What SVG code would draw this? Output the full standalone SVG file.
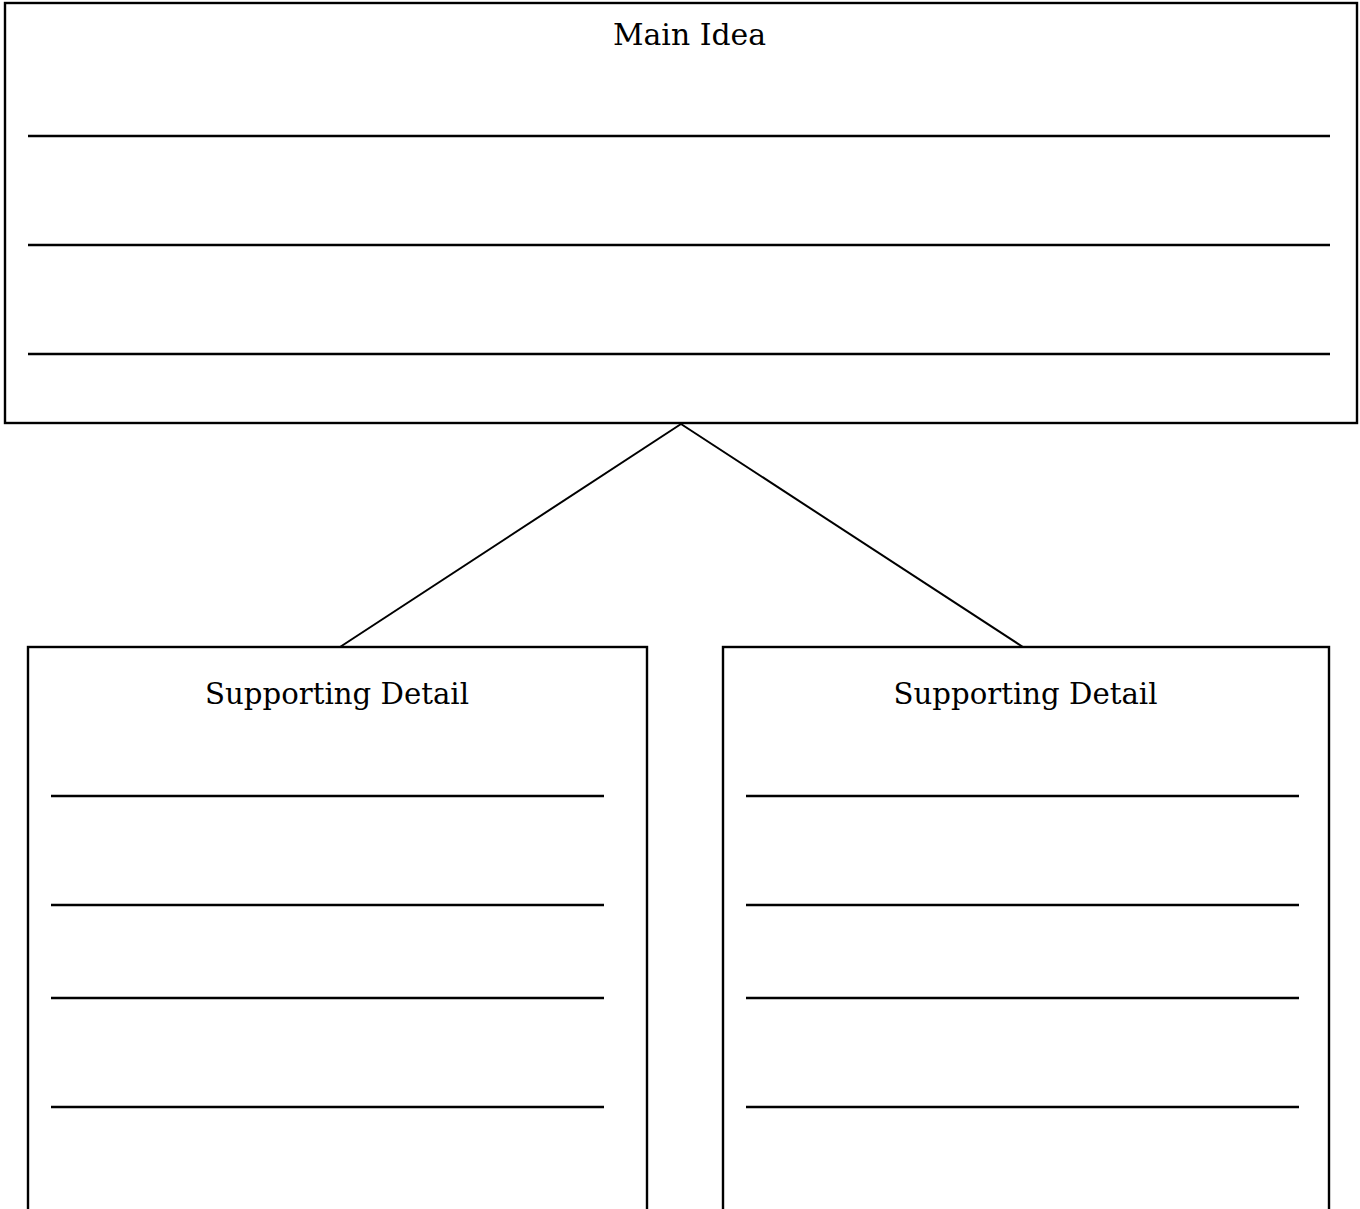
<svg xmlns="http://www.w3.org/2000/svg" width="1360" height="1209" viewBox="0 0 1360 1209">
<style>
.box{fill:#fff;stroke:#000;stroke-width:2.4}
.rule{stroke:#000;stroke-width:2.4}
.conn{stroke:#000;stroke-width:2;fill:none}
.t{font-family:"DejaVu Serif","Liberation Serif",serif;font-size:30px;fill:#000;text-anchor:middle}
</style>
<rect width="1360" height="1209" fill="#fff"/>
<g id="connectors">
<line class="conn" x1="681" y1="424" x2="340" y2="647"/>
<line class="conn" x1="681" y1="424" x2="1023" y2="647"/>
</g>
<g id="main-idea">
<rect class="box" x="5" y="3" width="1352" height="420"/>
<text class="t" x="689.5" y="45" textLength="153" lengthAdjust="spacingAndGlyphs">Main Idea</text>
<line class="rule" x1="28" y1="136" x2="1330" y2="136"/>
<line class="rule" x1="28" y1="245" x2="1330" y2="245"/>
<line class="rule" x1="28" y1="354" x2="1330" y2="354"/>
</g>
<g id="detail-left">
<rect class="box" x="28" y="647" width="619" height="600"/>
<text class="t" x="337" y="704" textLength="264" lengthAdjust="spacingAndGlyphs">Supporting Detail</text>
<line class="rule" x1="51" y1="796" x2="604" y2="796"/>
<line class="rule" x1="51" y1="905" x2="604" y2="905"/>
<line class="rule" x1="51" y1="998" x2="604" y2="998"/>
<line class="rule" x1="51" y1="1107" x2="604" y2="1107"/>
</g>
<g id="detail-right">
<rect class="box" x="723" y="647" width="606" height="600"/>
<text class="t" x="1025.5" y="704" textLength="264" lengthAdjust="spacingAndGlyphs">Supporting Detail</text>
<line class="rule" x1="746" y1="796" x2="1299" y2="796"/>
<line class="rule" x1="746" y1="905" x2="1299" y2="905"/>
<line class="rule" x1="746" y1="998" x2="1299" y2="998"/>
<line class="rule" x1="746" y1="1107" x2="1299" y2="1107"/>
</g>
</svg>
